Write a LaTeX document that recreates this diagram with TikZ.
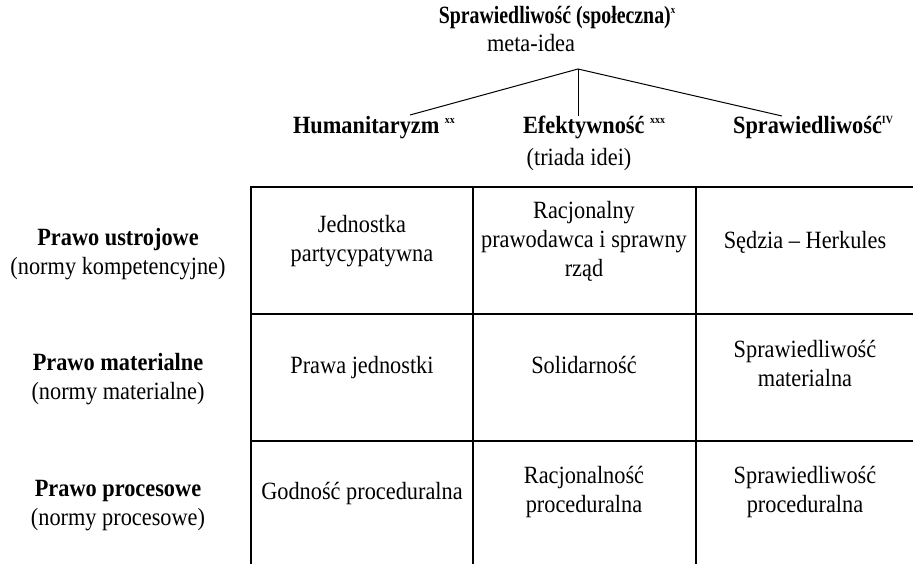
\documentclass[tikz,border=0pt]{standalone}
\usepackage{fontspec}
\setmainfont{Liberation Serif}[FakeStretch=0.9]
\newfontfamily\titlefont{Liberation Serif}[FakeStretch=0.8]
\newcommand\supr[1]{\raisebox{0.9ex}{\fontsize{11}{11}\selectfont #1}}
\begin{document}
\begin{tikzpicture}[x=1pt,y=-1pt,
  txt/.style={font=\fontsize{24.8}{29}\selectfont, align=center, inner sep=0pt,
    execute at begin node={\strut}, execute at end node={\strut}},
  hd/.style={txt, font=\fontsize{24.8}{29}\selectfont\bfseries},
  ttl/.style={txt, font=\titlefont\fontsize{24.8}{29}\selectfont\bfseries},
  gridline/.style={line width=1.3pt, line cap=rect},
  treeline/.style={line width=1pt}]
\useasboundingbox (0,0) rectangle (913,564);
% title
\node[ttl] (title) at (557,18) {Sprawiedliwość (społeczna)\supr{x}};
\node[txt] (meta) at (531,46) {meta-idea};
\coordinate (apex) at (578,69);
% ideas
\node[hd] (hum) at (374,128) {Humanitaryzm \supr{xx}};
\node[hd] (ef) at (594,128) {Efektywność \supr{xxx}};
\node[txt] (triad) at (579,160) {(triada idei)};
\node[hd] (spr) at (813,128) {Sprawiedliwość\supr{IV}};
\coordinate (humtop) at (410,115);
\coordinate (eftop) at (578,116);
\coordinate (sprtop) at (782,116);
\draw[treeline] (humtop) -- (apex) -- (sprtop);
\draw[treeline] (apex) -- (eftop);
% grid
\coordinate (g00) at (251,187);
\draw[gridline] (251,564) -- (g00) -- (913,187);
\draw[gridline] (473,187) -- (473,564);
\draw[gridline] (696,187) -- (696,564);
\draw[gridline] (251,314) -- (913,314);
\draw[gridline] (251,441) -- (913,441);
% row labels
\node[txt] (r1) at (118,256) {\textbf{Prawo ustrojowe}\\(normy kompetencyjne)};
\node[txt] (r2) at (118,381) {\textbf{Prawo materialne}\\(normy materialne)};
\node[txt] (r3) at (118,507) {\textbf{Prawo procesowe}\\(normy procesowe)};
% cells
\node[txt] (c11) at (362,243) {Jednostka\\partycypatywna};
\node[txt] (c12) at (584,243) {Racjonalny\\prawodawca i sprawny\\rząd};
\node[txt] (c13) at (805,243) {Sędzia – Herkules};
\node[txt] (c21) at (362,368) {Prawa jednostki};
\node[txt] (c22) at (584,368) {Solidarność};
\node[txt] (c23) at (805,368) {Sprawiedliwość\\materialna};
\node[txt] (c31) at (362,494) {Godność proceduralna};
\node[txt] (c32) at (584,494) {Racjonalność\\proceduralna};
\node[txt] (c33) at (805,494) {Sprawiedliwość\\proceduralna};
\end{tikzpicture}
\end{document}
